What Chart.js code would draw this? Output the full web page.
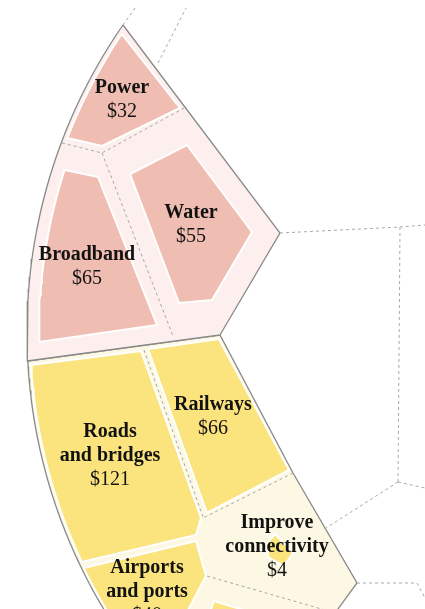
<!DOCTYPE html>
<html>
<head>
<meta charset="utf-8">
<script src="https://cdn.jsdelivr.net/npm/chart.js@4.4.0/dist/chart.umd.min.js"></script>
<style>
  html, body { margin: 0; padding: 0; background: #fff; }
  #wrap { width: 425px; height: 609px; }
</style>
</head>
<body>
<div id="wrap"><canvas id="chart" width="425" height="609"></canvas></div>
<script>
// Spending by category (billions)
const categories = ["Power", "Water", "Broadband", "Railways", "Roads and bridges", "Improve connectivity", "Airports and ports"];
const values = [32, 55, 65, 66, 121, 4, 40];
const groups = ["utilities", "utilities", "utilities", "transport", "transport", "transport", "transport"];
const labelLines = [["Power"], ["Water"], ["Broadband"], ["Railways"], ["Roads", "and bridges"], ["Improve", "connectivity"], ["Airports", "and ports"]];

// layout: where each label sits (center x, first baseline) in chart units
const labelAnchor = [[122, 93], [191, 218], [87, 260], [213, 410], [110, 437], [277, 528], [147, 573]];

const colors = {
    utilities: { bg: "#fcefed", cell: "#f0bdb2" },
    transport: { bg: "#fdf8e3", cell: "#fbe47e" }
};

// outer rim of the big circle, the chart is a slice of it
const RIM = { cx: 566, cy: 332, r: 539 };
function rim(y0, y1, inset) {
    const pts = [];
    const rr = RIM.r - inset;
    const n = Math.max(2, Math.ceil(Math.abs(y1 - y0) / 6));
    for (let i = 0; i <= n; i++) {
        const y = y0 + (y1 - y0) * i / n;
        pts.push({ x: RIM.cx - Math.sqrt(rr * rr - (y - RIM.cy) * (y - RIM.cy)), y: y });
    }
    return pts;
}
const P = (x, y) => ({ x, y });
function closed(pts) { return pts.concat([pts[0]]); }

// cell shapes
const groupShapes = {
    utilities: closed([...rim(25, 361, 0), P(220, 335), P(280, 233), P(123, 25)]),
    transport: closed([...rim(361, 620, 0), P(330, 620), P(357, 583), P(293, 473), P(220, 335)])
};
const cellShapes = [
    closed([...rim(34, 138, 4), P(102, 146), P(180, 108)]),                 // Power
    closed([P(130, 174), P(187, 145), P(252, 232), P(212, 300), P(179, 303)]), // Water
    closed([P(65, 170), P(98, 177), P(157, 325), ...rim(342, 170, 12)]),     // Broadband
    closed([P(148, 349), P(219, 339), P(289, 470), P(207, 513)]),            // Railways
    closed([...rim(365, 562, 3), P(196, 535), P(201, 518), P(141, 351)]),    // Roads
    closed([P(268, 542), P(275, 534), P(293, 553), P(284, 566), P(268, 557)]), // Improve
    closed([P(196, 541), P(206, 576), P(187, 612), ...rim(612, 568, 2)])     // Airports
];
const extraCell = closed([P(214, 601), P(250, 612), P(210, 612)]);

// dashed boundaries between cells and neighbouring (empty) groups
const dashedLines = [
    [P(62, 143), P(102, 153), P(184, 108)],
    [P(102, 153), P(173, 336)],
    [P(144, 350), P(203, 517)],
    [P(293, 473), P(203, 518)],
    [P(207, 576), P(325, 610)],
    [P(123, 25), P(135, 8)],
    [P(158, 63), P(186, 8)],
    [P(280, 233), P(400, 227), P(425, 225)],
    [P(400, 227), P(398, 482)],
    [P(398, 482), P(326, 528)],
    [P(398, 482), P(425, 488)],
    [P(357, 583), P(417, 583), P(425, 598)]
];

const datasets = [];
Object.keys(groupShapes).forEach(g => {
    datasets.push({
        data: groupShapes[g], order: 10, fill: "shape",
        backgroundColor: colors[g].bg, borderColor: "#888", borderWidth: 1.3
    });
});
cellShapes.forEach((shape, i) => {
    datasets.push({
        data: shape, order: 5, fill: "shape",
        backgroundColor: colors[groups[i]].cell, borderColor: "#fff", borderWidth: 2
    });
});
datasets.push({
    data: extraCell, order: 5, fill: "shape",
    backgroundColor: colors.transport.cell, borderColor: "#fff", borderWidth: 2
});
dashedLines.forEach(line => {
    datasets.push({
        data: line, order: 1, fill: false,
        borderColor: "#a8a8a8", borderWidth: 1, borderDash: [3, 3]
    });
});

const labelPlugin = {
    id: "cellLabels",
    afterDatasetsDraw(chart) {
        const { ctx, scales } = chart;
        ctx.save();
        ctx.textAlign = "center";
        ctx.textBaseline = "alphabetic";
        ctx.fillStyle = "#121212";
        categories.forEach((cat, i) => {
            const x = scales.x.getPixelForValue(labelAnchor[i][0]);
            let y = scales.y.getPixelForValue(labelAnchor[i][1]);
            ctx.font = "bold 20px 'Liberation Serif'";
            labelLines[i].forEach(line => {
                ctx.fillText(line, x, y);
                y += 24;
            });
            ctx.font = "20px 'Liberation Serif'";
            ctx.fillText("$" + values[i], x, y);
        });
        ctx.restore();
    }
};

new Chart(document.getElementById("chart").getContext("2d"), {
    type: "line",
    data: { datasets: datasets },
    options: {
        responsive: false,
        animation: false,
        events: [],
        layout: { padding: 0 },
        elements: { point: { radius: 0 }, line: { tension: 0 } },
        scales: {
            x: { type: "linear", min: 0, max: 425, display: false },
            y: { type: "linear", min: 0, max: 609, reverse: true, display: false }
        },
        plugins: { legend: { display: false }, tooltip: { enabled: false } }
    },
    plugins: [labelPlugin]
});
</script>
</body>
</html>
